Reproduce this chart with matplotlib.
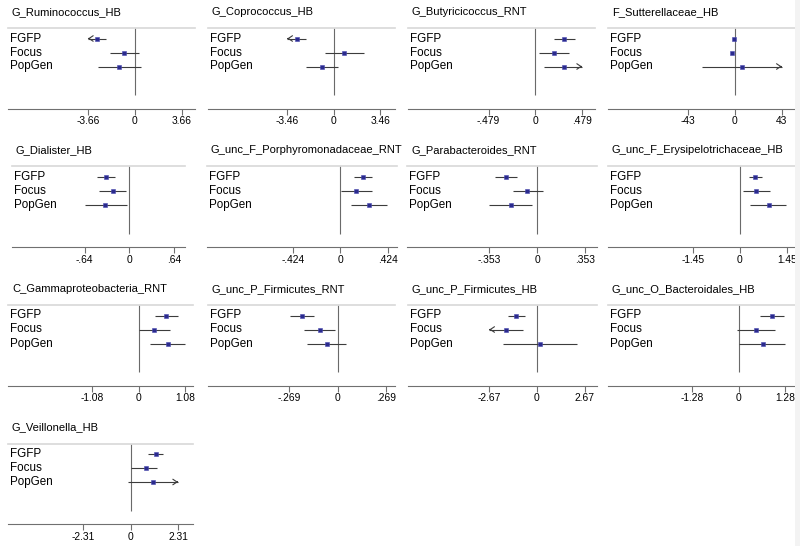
import matplotlib
matplotlib.use("Agg")
import matplotlib.pyplot as plt
from matplotlib.patches import Rectangle

plt.rcParams['font.family'] = ['Liberation Sans', 'DejaVu Sans']

# panel titles, in reading order
titles = ["G_Ruminococcus_HB", "G_Coprococcus_HB", "G_Butyricicoccus_RNT", "F_Sutterellaceae_HB",
          "G_Dialister_HB", "G_unc_F_Porphyromonadaceae_RNT", "G_Parabacteroides_RNT",
          "G_unc_F_Erysipelotrichaceae_HB", "C_Gammaproteobacteria_RNT", "G_unc_P_Firmicutes_RNT",
          "G_unc_P_Firmicutes_HB", "G_unc_O_Bacteroidales_HB", "G_Veillonella_HB"]
groups = ["FGFP", "Focus", "PopGen"]

# symmetric tick value of each panel and its printed labels
tick_max = [3.66, 3.46, 0.479, 43, 0.64, 0.424, 0.353, 1.45, 1.08, 0.269, 2.67, 1.28, 2.31]
tick_text = [("-3.66", "0", "3.66"), ("-3.46", "0", "3.46"), ("-.479", "0", ".479"), ("-43", "0", "43"),
             ("-.64", "0", ".64"), ("-.424", "0", ".424"), ("-.353", "0", ".353"), ("-1.45", "0", "1.45"),
             ("-1.08", "0", "1.08"), ("-.269", "0", ".269"), ("-2.67", "0", "2.67"), ("-1.28", "0", "1.28"),
             ("-2.31", "0", "2.31")]

# estimates and confidence limits (FGFP, Focus, PopGen)
est = [[-2.98, -0.83, -1.25], [-2.76, 0.79, -0.87], [0.297, 0.189, 0.291], [-0.9, -2.7, 6.7],
       [-0.334, -0.234, -0.344], [0.203, 0.141, 0.260], [-0.229, -0.072, -0.195], [0.473, 0.513, 0.904],
       [0.636, 0.349, 0.675], [-0.199, -0.100, -0.061], [-1.16, -1.74, 0.19], [0.921, 0.469, 0.672],
       [1.22, 0.73, 1.07]]
lo = [[-3.9, -1.95, -2.86], [-3.7, -0.63, -2.07], [0.189, 0.041, 0.092], [-1.5, -3.3, -29.9],
      [-0.463, -0.430, -0.636], [0.126, 0.009, 0.099], [-0.309, -0.180, -0.353], [0.287, 0.113, 0.318],
      [0.379, 0.014, 0.263], [-0.266, -0.189, -0.173], [-1.64, -2.9, -1.89], [0.589, -0.055, 0.018],
      [0.83, 0.0, -0.10]]
hi = [[-2.26, 0.31, 0.44], [-2.07, 2.26, 0.30], [0.404, 0.346, 0.52], [-0.3, -2.1, 48],
      [-0.205, -0.043, -0.037], [0.287, 0.287, 0.42], [-0.148, 0.042, -0.039], [0.678, 0.925, 1.44],
      [0.908, 0.722, 1.07], [-0.130, -0.013, 0.048], [-0.67, -0.77, 2.24], [1.26, 1.01, 1.275],
      [1.60, 1.31, 2.6]]

# pixel layout: left edge, right edge, zero position, pixels per tick step
left_px = [8, 208, 408, 608, 12, 207, 407, 608, 8, 208, 408, 608, 8]
right_px = [195, 395, 595, 795, 185, 397, 597, 800, 193, 395, 597, 800, 193]
zero_px = [135, 333.7, 535.3, 734.7, 129.3, 340.3, 537, 739.7, 138.7, 337.7, 537, 738.7, 130.5]
step_px = [47, 46.4, 46.7, 47, 44.6, 47.3, 47.7, 47, 46.4, 48.3, 47.7, 46.3, 47.5]

W, H = 800, 546
fig = plt.figure(figsize=(W / 100, H / 100), dpi=100)
fig.patch.set_facecolor('white')

line_col = '#3c3c3c'
mark_col = '#2b2b8e'

for i, title in enumerate(titles):
    r = i // 4
    top = 28 + 138.5 * r
    bot = top + 80.5
    L, R, Z, s, a = left_px[i], right_px[i], zero_px[i], step_px[i], tick_max[i]
    ax = fig.add_axes([L / W, 1 - bot / H, (R - L) / W, (bot - top) / H])
    ax.set_xlim((L - Z) / s * a, (R - Z) / s * a)
    ax.set_ylim(5.0, -0.75)
    ax.set_facecolor('none')

    for sp in ['left', 'right']:
        ax.spines[sp].set_visible(False)
    ax.spines['top'].set_color('#d8d8d8')
    ax.spines['top'].set_linewidth(1.2)
    ax.spines['bottom'].set_color('#707070')
    ax.spines['bottom'].set_linewidth(0.8)
    ax.set_yticks([])
    ax.set_xticks([-a, 0, a])
    ax.set_xticklabels(tick_text[i])
    ax.tick_params(axis='x', length=4, width=0.8, color='#707070', labelsize=7.4, pad=1.5,
                   labelcolor='black')

    ax.vlines(0, -0.75, 4.04, color='#6a6a6a', lw=0.8, zorder=1)

    ax.text(4 / (R - L), 1 + 16 / 80.5, title, transform=ax.transAxes, va='center', ha='left',
            fontsize=8, clip_on=False)

    for j, g in enumerate(groups):
        ax.text(2 / (R - L), j, g, transform=ax.get_yaxis_transform(), va='center', ha='left',
                fontsize=8.4)
        x0 = max(lo[i][j], -a)
        x1 = min(hi[i][j], a)
        ax.plot([x0, x1], [j, j], color=line_col, lw=0.8, solid_capstyle='butt', zorder=2)
        if lo[i][j] < -a:
            ax.annotate('', xy=(x0, j), xytext=(x0 + 0.02 * a, j),
                        arrowprops=dict(arrowstyle='->,head_length=0.3,head_width=0.2', lw=0.8,
                                        color=line_col, shrinkA=0, shrinkB=0))
        if hi[i][j] > a:
            ax.annotate('', xy=(x1, j), xytext=(x1 - 0.02 * a, j),
                        arrowprops=dict(arrowstyle='->,head_length=0.3,head_width=0.2', lw=0.8,
                                        color=line_col, shrinkA=0, shrinkB=0))
        ax.plot(est[i][j], j, marker='s', ms=3.2, color=mark_col, mec='#4a4ab0', mew=0.4, zorder=3)

# faint strip at the right border of the picture
fig.add_artist(Rectangle((795 / W, 0), 5 / W, 1, transform=fig.transFigure,
                         facecolor='#f3f3f3', edgecolor='none', zorder=10))

fig.savefig("out.png", dpi=100)
